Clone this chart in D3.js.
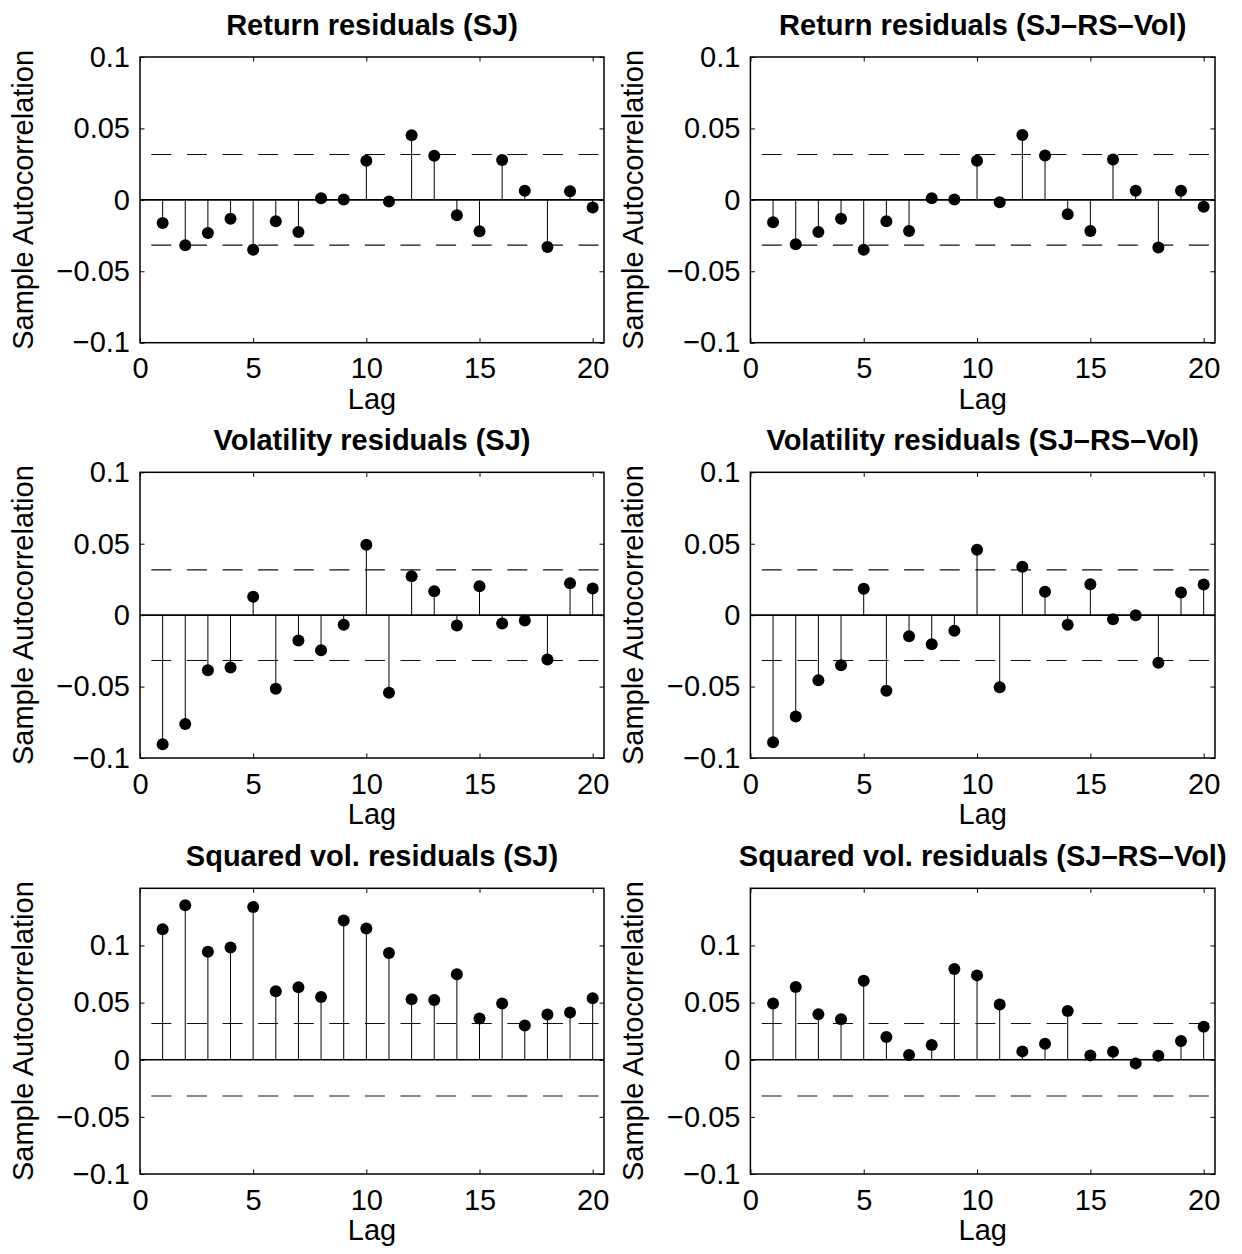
<!DOCTYPE html>
<html><head><meta charset="utf-8">
<script src="https://cdn.jsdelivr.net/npm/d3@7"></script>
<style>body{margin:0;background:#fff}</style>
</head><body>
<svg id="c" width="1242" height="1254" xmlns="http://www.w3.org/2000/svg"></svg>
<script>
const lags = [1,2,3,4,5,6,7,8,9,10,11,12,13,14,15,16,17,18,19,20];
const titles = [
  "Return residuals (SJ)", "Return residuals (SJ–RS–Vol)",
  "Volatility residuals (SJ)", "Volatility residuals (SJ–RS–Vol)",
  "Squared vol. residuals (SJ)", "Squared vol. residuals (SJ–RS–Vol)"
];
const returnSJ = [-0.0162,-0.0318,-0.0232,-0.0133,-0.0349,-0.0150,-0.0225,0.0012,0.0002,0.0274,-0.0012,0.0452,0.0309,-0.0108,-0.0220,0.0279,0.0063,-0.0330,0.0061,-0.0054];
const returnRS = [-0.0157,-0.0311,-0.0225,-0.0133,-0.0349,-0.0150,-0.0218,0.0012,0.0002,0.0274,-0.0016,0.0454,0.0311,-0.0101,-0.0218,0.0283,0.0063,-0.0333,0.0063,-0.0049];
const volSJ = [-0.0904,-0.0762,-0.0386,-0.0367,0.0129,-0.0516,-0.0178,-0.0245,-0.0068,0.0493,-0.0544,0.0273,0.0168,-0.0072,0.0203,-0.0058,-0.0037,-0.0311,0.0224,0.0187];
const volRS = [-0.0890,-0.0710,-0.0456,-0.0350,0.0185,-0.0530,-0.0147,-0.0203,-0.0110,0.0458,-0.0505,0.0339,0.0164,-0.0068,0.0217,-0.0028,0.0000,-0.0334,0.0159,0.0215];
const sqSJ = [0.1142,0.1352,0.0945,0.0983,0.1337,0.0599,0.0634,0.0549,0.1218,0.1148,0.0933,0.0529,0.0523,0.0747,0.0360,0.0491,0.0299,0.0395,0.0413,0.0538];
const sqRS = [0.0491,0.0637,0.0398,0.0355,0.0692,0.0198,0.0041,0.0128,0.0794,0.0738,0.0483,0.0073,0.0140,0.0427,0.0038,0.0070,-0.0032,0.0035,0.0163,0.0288];
const bound = 0.0317;
const xTicks = [0,5,10,15,20];
const yTicks = [-0.1,-0.05,0,0.05,0.1];
const yTickLabels = ["−0.1","−0.05","0","0.05","0.1"];
const xLabel = "Lag";
const yLabel = "Sample Autocorrelation";

const series = [returnSJ, returnRS, volSJ, volRS, sqSJ, sqRS];
const yDomains = [[-0.1,0.1],[-0.1,0.1],[-0.1,0.15]];

const svg = d3.select("#c");
svg.append("rect").attr("width",1242).attr("height",1254).attr("fill","#fff");
const FONT = "'Liberation Sans', Arial, Helvetica, sans-serif";
const colX = [[140,604],[750.4,1215]];
const rowTop = [57,472.3,888.3];
const H = 285.7;

series.forEach((data,i)=>{
  const row = Math.floor(i/2), col = i%2;
  const [L,R] = colX[col];
  const T = rowTop[row], B = T + H;
  const x = d3.scaleLinear().domain([0,20.5]).range([L,R]);
  const y = d3.scaleLinear().domain(yDomains[row]).range([B,T]);
  const g = svg.append("g");

  // axes
  const ax = g.append("g").attr("transform",`translate(0,${B})`)
    .call(d3.axisBottom(x).tickValues(xTicks).tickSize(-4.5).tickSizeOuter(0).tickPadding(15).tickFormat(d3.format("d")));
  const ay = g.append("g").attr("transform",`translate(${L},0)`)
    .call(d3.axisLeft(y).tickValues(yTicks).tickSize(-4.5).tickSizeOuter(0).tickPadding(10).tickFormat((d,k)=>yTickLabels[k]));
  const at = g.append("g").attr("transform",`translate(0,${T})`)
    .call(d3.axisTop(x).tickValues(xTicks).tickSize(-4.5).tickSizeOuter(0).tickFormat(""));
  const ar = g.append("g").attr("transform",`translate(${R},0)`)
    .call(d3.axisRight(y).tickValues(yTicks).tickSize(-4.5).tickSizeOuter(0).tickFormat(""));
  [ax,ay,at,ar].forEach(a=>{
    a.select(".domain").remove();
    a.selectAll("line").attr("stroke","#000").attr("stroke-width",1);
    a.attr("font-size",29).attr("font-family",FONT);
    a.selectAll("text").attr("fill","#000");
  });

  // box
  g.append("rect").attr("x",L).attr("y",T).attr("width",R-L).attr("height",B-T)
    .attr("fill","none").attr("stroke","#000").attr("stroke-width",1.5);

  // bounds
  [bound,-bound].forEach(b=>{
    g.append("line").attr("x1",x(0.5)).attr("x2",x(20.5)).attr("y1",y(b)).attr("y2",y(b))
      .attr("stroke","#111").attr("stroke-width",1.1).attr("stroke-dasharray","20,15.6");
  });
  // zero line
  g.append("line").attr("x1",x(0)).attr("x2",x(20.5)).attr("y1",y(0)).attr("y2",y(0))
    .attr("stroke","#000").attr("stroke-width",1.6);

  // stems
  g.selectAll(".stem").data(data).enter().append("line")
    .attr("x1",(d,k)=>x(lags[k])).attr("x2",(d,k)=>x(lags[k]))
    .attr("y1",y(0)).attr("y2",d=>y(d)).attr("stroke","#000").attr("stroke-width",1);
  g.selectAll(".dot").data(data).enter().append("circle")
    .attr("cx",(d,k)=>x(lags[k])).attr("cy",d=>y(d)).attr("r",6).attr("fill","#000");

  // title
  g.append("text").attr("x",(L+R)/2).attr("y",T-22).attr("text-anchor","middle")
    .attr("font-family",FONT).attr("font-weight","bold").attr("font-size",29).text(titles[i]);
  // x label
  g.append("text").attr("x",(L+R)/2).attr("y",B+66).attr("text-anchor","middle")
    .attr("font-family",FONT).attr("font-size",29).text(xLabel);
  // y label
  g.append("text").attr("transform",`translate(${L-107},${(T+B)/2}) rotate(-90)`)
    .attr("text-anchor","middle").attr("font-family",FONT).attr("font-size",29).text(yLabel);
});
</script>
</body></html>
